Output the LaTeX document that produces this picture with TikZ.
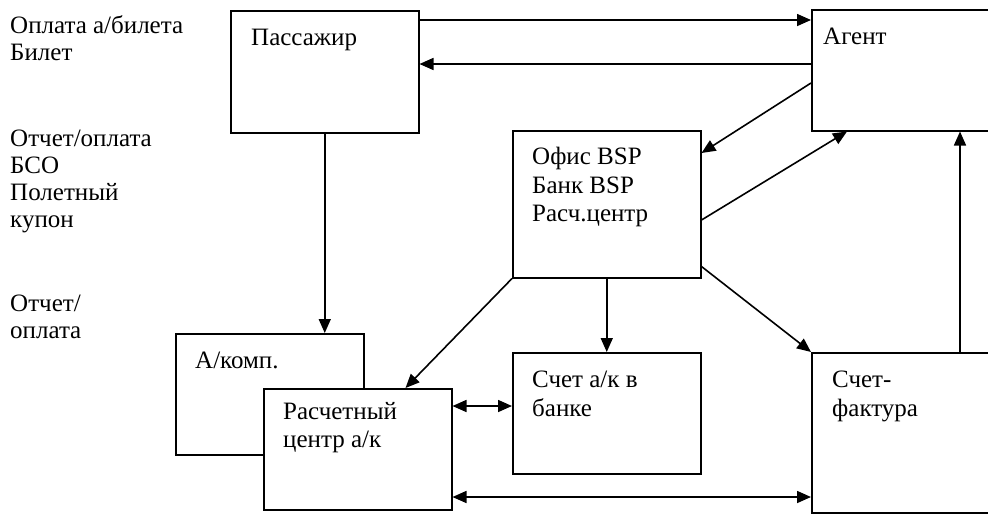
\documentclass[tikz,border=0pt]{standalone}
\usepackage{fontspec}
\setmainfont{Liberation Serif}
\usetikzlibrary{arrows.meta}

\tikzset{
  box/.style={draw, line width=1.5pt, fill=white, anchor=north west,
    minimum width=188pt, minimum height=#1, inner sep=0pt},
  boxtxt/.style={anchor=north west, inner sep=0pt, align=left,
    font=\fontsize{25}{28.5}\selectfont, execute at begin node=\strut},
  sidetxt/.style={anchor=north west, inner sep=0pt, align=left,
    font=\fontsize{25}{27}\selectfont, execute at begin node=\strut},
  flow/.style={line width=1.6pt, >={Triangle[length=14pt,width=12pt]}},
}

\begin{document}
\begin{tikzpicture}[x=1pt, y=-1pt]

  \useasboundingbox (0,0) rectangle (988,515);
  \clip (0,0) rectangle (988,515);

  % Blocs
  \node[box=122pt] (pass) at (230,10) {};
  \node[box=121pt] (agent) at (811,9) {};
  \node[box=147pt] (bsp) at (512,130) {};
  \node[box=121pt] (akomp) at (175,333) {};
  \node[box=121pt] (rasch) at (263,388) {};
  \node[box=121pt] (schet) at (512,352) {};
  \node[box=160pt] (faktura) at (811,352) {};

  % Textes des blocs
  \node[boxtxt] (passtxt) at ([xshift=21pt, yshift=-15pt]pass.north west) {Пассажир};
  \node[boxtxt] (agenttxt) at ([xshift=12pt, yshift=-15pt]agent.north west) {Агент};
  \node[boxtxt] (bsptxt) at ([xshift=20pt, yshift=-17pt]bsp.north west) {Офис BSP\\Банк BSP\\Расч.центр};
  \node[boxtxt] (akomptxt) at ([xshift=20pt, yshift=-15pt]akomp.north west) {А/комп.};
  \node[boxtxt] (raschtxt) at ([xshift=20pt, yshift=-14pt]rasch.north west) {Расчетный\\центр а/к};
  \node[boxtxt] (schettxt) at ([xshift=20pt, yshift=-19pt]schet.north west) {Счет а/к в\\банке};
  \node[boxtxt] (fakturatxt) at ([xshift=21pt, yshift=-19pt]faktura.north west) {Счет-\\фактура};

  % Legende a gauche
  \node[sidetxt] (lbl1) at (10,15) {Оплата а/билета\\Билет};
  \node[sidetxt] (lbl2) at (10,130) {Отчет/оплата\\БСО\\Полетный\\купон};
  \node[sidetxt] (lbl3) at (10,295) {Отчет/\\оплата};

  % Fleches
  \coordinate (pa) at ([yshift=-10pt]pass.north east);
  \draw[flow, ->] (pa) -- (pa -| agent.west);
  \coordinate (ap) at ([yshift=-55pt]agent.north west);
  \draw[flow, ->] (ap) -- (ap -| pass.east);
  \draw[flow, ->] ([yshift=-74pt]agent.north west) -- ([yshift=-23pt]bsp.north east);
  \draw[flow, ->] ([yshift=-90pt]bsp.north east) -- ([xshift=36pt]agent.south west);
  \draw[flow, ->] (pass.south) -- (pass.south |- akomp.north);
  \draw[flow, ->] (bsp.south west) -- ([xshift=-47pt]rasch.north east);
  \draw[flow, ->] (bsp.south) -- (schet.north);
  \draw[flow, ->] ([yshift=12pt]bsp.south east) -- (faktura.north west);
  \coordinate (fa) at ([xshift=149pt]faktura.north west);
  \draw[flow, ->] (fa) -- (fa |- agent.south);
  \coordinate (rs) at ([yshift=-18pt]rasch.north east);
  \draw[flow, <->] (rs) -- (rs -| schet.west);
  \coordinate (rf) at ([yshift=-109pt]rasch.north east);
  \draw[flow, <->] (rf) -- (rf -| faktura.west);

\end{tikzpicture}
\end{document}
